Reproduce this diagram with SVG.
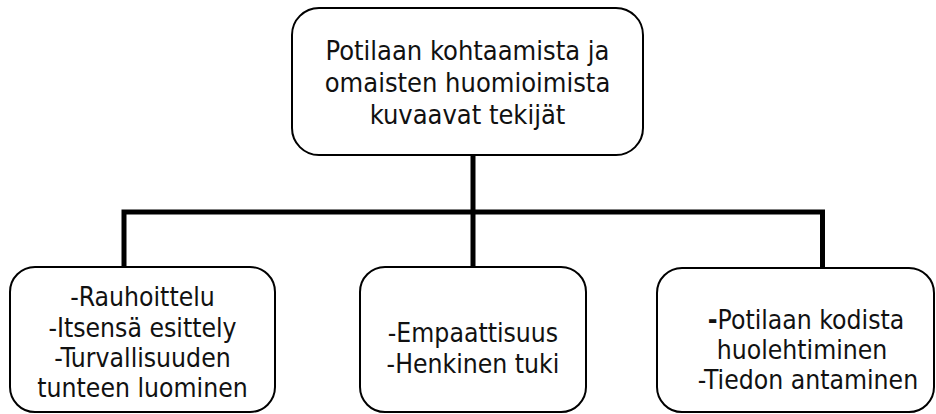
<svg xmlns="http://www.w3.org/2000/svg" width="936" height="414" viewBox="0 0 936 414">
  <style>
    .box { fill: #ffffff; stroke: #000000; stroke-width: 2; }
    .lbl { font-family: "DejaVu Sans Condensed", "DejaVu Sans", sans-serif; font-size: 26.3px; fill: #111111; text-anchor: middle; }
    .big { font-size: 27px; }
    .wire { fill: none; stroke: #000000; stroke-width: 5; stroke-linecap: square; }
  </style>
  <rect width="936" height="414" fill="#ffffff"/>
  <g id="connectors">
    <polyline class="wire" points="124,266 124,212 822.5,212 822.5,266"/>
    <line class="wire" x1="473" y1="156" x2="473" y2="266"/>
  </g>
  <g id="node-top">
    <rect class="box" x="292" y="8" width="351" height="147" rx="27" ry="27"/>
    <text class="lbl big" x="467.5" y="59.5">Potilaan kohtaamista ja</text>
    <text class="lbl big" x="467.5" y="91.5">omaisten huomioimista</text>
    <text class="lbl big" x="467.5" y="123.5">kuvaavat tekijät</text>
  </g>
  <g id="node-left">
    <rect class="box" x="10" y="267" width="265" height="145" rx="25" ry="25"/>
    <text class="lbl" x="142.5" y="306">-Rauhoittelu</text>
    <text class="lbl" x="142.5" y="336.5">-Itsensä esittely</text>
    <text class="lbl" x="142.5" y="367">-Turvallisuuden</text>
    <text class="lbl" x="142.5" y="397">tunteen luominen</text>
  </g>
  <g id="node-middle">
    <rect class="box" x="360" y="267" width="226" height="145" rx="25" ry="25"/>
    <text class="lbl" x="473" y="341.5">-Empaattisuus</text>
    <text class="lbl" x="473" y="373">-Henkinen tuki</text>
  </g>
  <g id="node-right">
    <rect class="box" x="657" y="268" width="277" height="144" rx="25" ry="25"/>
    <text class="lbl" x="806" y="329"><tspan font-weight="bold">-</tspan>Potilaan kodista</text>
    <text class="lbl" x="802" y="359">huolehtiminen</text>
    <text class="lbl" x="808" y="389">-Tiedon antaminen</text>
  </g>
</svg>
